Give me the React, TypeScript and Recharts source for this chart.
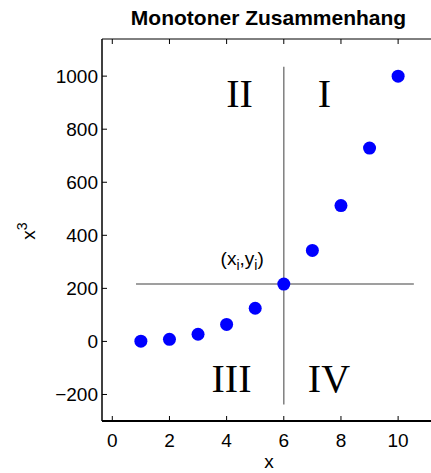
import React from "react";
import {
  ScatterChart,
  Scatter,
  XAxis,
  YAxis,
  ReferenceLine,
  ReferenceDot,
} from "recharts";

// x values and their cubes
const xValues = [1, 2, 3, 4, 5, 6, 7, 8, 9, 10];
const cubeValues = [1, 8, 27, 64, 125, 216, 343, 512, 729, 1000];

const xTicks = [0, 2, 4, 6, 8, 10];
const yTicks = [-200, 0, 200, 400, 600, 800, 1000];

// the highlighted point (x_i, y_i) and the cross through it
const pivot = { x: 6, y: 216 };
const crossX = [0.83, 10.55];
const crossY = [-238, 1035];

// quadrant names with their anchor positions in data units
const quadrants = [
  { name: "II", x: 4.45, y: 882 },
  { name: "I", x: 7.42, y: 882 },
  { name: "III", x: 4.17, y: -190 },
  { name: "IV", x: 7.58, y: -190 },
];

const data = xValues.map((x, i) => ({ x, y: cubeValues[i] }));

const SANS = "'Liberation Sans', Arial, Helvetica, sans-serif";
const SERIF = "'Liberation Serif', 'Times New Roman', serif";
const GRID = "#7f7f7f";

const BottomTick = (props: any) => {
  const { x, y, payload } = props;
  return (
    <g>
      <line x1={x} y1={y} x2={x} y2={y - 5} stroke="#000" strokeWidth={1} />
      <text x={x} y={y + 26} textAnchor="middle" fontFamily={SANS} fontSize={19} fill="#000">
        {payload.value}
      </text>
    </g>
  );
};

const TopTick = (props: any) => {
  const { x, y } = props;
  return <line x1={x} y1={y} x2={x} y2={y + 5} stroke="#000" strokeWidth={1} />;
};

const LeftTick = (props: any) => {
  const { x, y, payload } = props;
  const label = payload.value < 0 ? `\u2212${Math.abs(payload.value)}` : `${payload.value}`;
  return (
    <g>
      <line x1={x} y1={y} x2={x + 5} y2={y} stroke="#000" strokeWidth={1} />
      <text x={x - 4} y={y + 7} textAnchor="end" fontFamily={SANS} fontSize={19} fill="#000">
        {label}
      </text>
    </g>
  );
};

const Dot = (props: any) => (
  <circle cx={props.cx} cy={props.cy} r={6.5} fill="#0000ff" />
);

export default function App() {
  return (
    <div
      style={{
        position: "fixed",
        left: 0,
        top: 0,
        width: 431,
        height: 473,
        overflow: "hidden",
        background: "#fff",
      }}
    >
      <ScatterChart
        width={480}
        height={473}
        margin={{ top: 29, left: 42, right: 39, bottom: 22 }}
      >
        <XAxis
          type="number"
          dataKey="x"
          domain={[-0.36, 11.5]}
          ticks={xTicks}
          height={30}
          tickSize={0}
          tickMargin={0}
          tickLine={false}
          tick={<BottomTick />}
          axisLine={{ stroke: "#000", strokeWidth: 2 }}
          allowDataOverflow
        />
        <XAxis
          xAxisId="top"
          orientation="top"
          type="number"
          dataKey="x"
          domain={[-0.36, 11.5]}
          ticks={xTicks}
          height={10}
          tickSize={0}
          tickMargin={0}
          tickLine={false}
          tick={<TopTick />}
          axisLine={{ stroke: "#000", strokeWidth: 1 }}
          allowDataOverflow
        />
        <YAxis
          type="number"
          dataKey="y"
          domain={[-300, 1140]}
          ticks={yTicks}
          width={60}
          tickSize={0}
          tickMargin={0}
          tickLine={false}
          tick={<LeftTick />}
          axisLine={{ stroke: "#000", strokeWidth: 1.5 }}
          allowDataOverflow
        />
        <Scatter data={data} shape={<Dot />} isAnimationActive={false} />
        <ReferenceLine
          segment={[
            { x: crossX[0], y: pivot.y },
            { x: crossX[1], y: pivot.y },
          ]}
          stroke={GRID}
          strokeWidth={1.5}
        />
        <ReferenceLine
          segment={[
            { x: pivot.x, y: crossY[0] },
            { x: pivot.x, y: crossY[1] },
          ]}
          stroke={GRID}
          strokeWidth={1.5}
        />
        {quadrants.map((q) => (
          <ReferenceDot
            key={q.name}
            x={q.x}
            y={q.y}
            r={0}
            shape={(p: any) => (
              <text
                x={p.cx}
                y={p.cy}
                textAnchor="middle"
                fontFamily={SERIF}
                fontSize={40}
                fill="#000"
              >
                {q.name}
              </text>
            )}
          />
        ))}
        <ReferenceDot
          x={3.79}
          y={289}
          r={0}
          shape={(p: any) => (
            <text x={p.cx} y={p.cy} fontFamily={SANS} fontSize={19} fill="#000">
              <tspan>(x</tspan>
              <tspan dy={5} fontSize={14}>i</tspan>
              <tspan dy={-5}>,y</tspan>
              <tspan dy={5} fontSize={14}>i</tspan>
              <tspan dy={-5}>)</tspan>
            </text>
          )}
        />
      </ScatterChart>
      <svg
        width={431}
        height={473}
        style={{ position: "absolute", left: 0, top: 0, pointerEvents: "none" }}
      >
        <text
          x={268.5}
          y={25}
          textAnchor="middle"
          fontFamily={SANS}
          fontWeight="bold"
          fontSize={21}
          fill="#000"
        >
          Monotoner Zusammenhang
        </text>
        <text x={269} y={468} textAnchor="middle" fontFamily={SANS} fontSize={19} fill="#000">
          x
        </text>
        <text
          transform="translate(35,231) rotate(-90)"
          textAnchor="middle"
          fontFamily={SANS}
          fontSize={19}
          fill="#000"
        >
          <tspan>x</tspan>
          <tspan dy={-8} fontSize={14}>3</tspan>
        </text>
      </svg>
    </div>
  );
}
